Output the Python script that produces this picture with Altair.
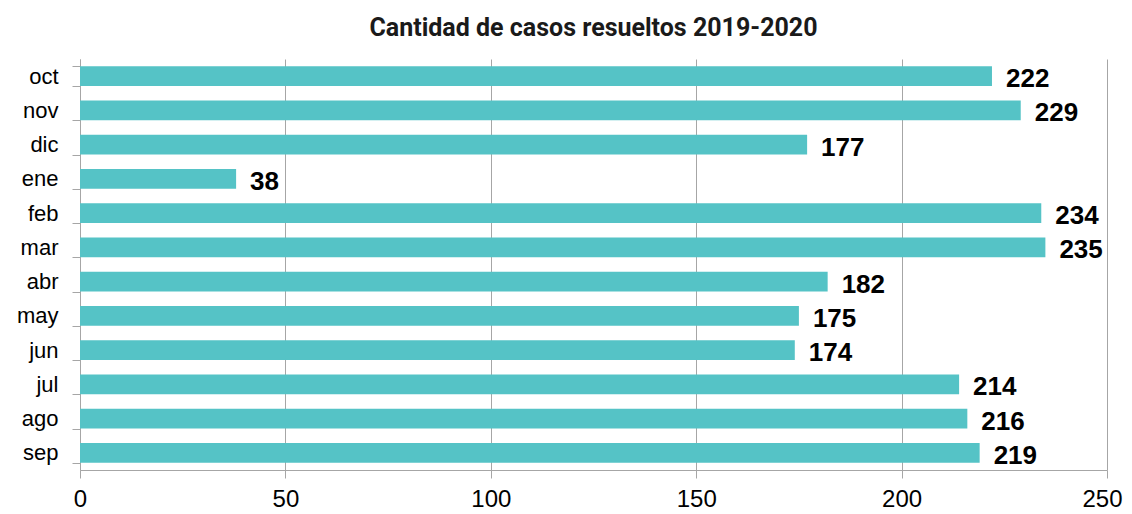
import altair as alt
import pandas as pd

months = ["oct", "nov", "dic", "ene", "feb", "mar", "abr", "may", "jun", "jul", "ago", "sep"]
values = [222, 229, 177, 38, 234, 235, 182, 175, 174, 214, 216, 219]
x_ticks = [0, 50, 100, 150, 200, 250]

df = pd.DataFrame({"mes": months, "casos": values})

y_enc = alt.Y("mes:N", sort=months, title=None,
              scale=alt.Scale(paddingInner=0.42, paddingOuter=0.21),
              axis=alt.Axis(labelFontSize=22, labelFont="Liberation Sans", labelColor="#000000",
                            labelPadding=14, tickSize=8, tickColor="#A6A6A6", domainColor="#A6A6A6",
                            tickBand="extent", grid=False))
x_enc = alt.X("casos:Q", title=None,
              scale=alt.Scale(domain=[0, 250], nice=False),
              axis=alt.Axis(values=x_ticks, labelFontSize=24,
                            labelFont="Liberation Sans", labelColor="#000000", labelPadding=9,
                            labelAlign=alt.ExprRef(expr="datum.value == 250 ? 'right' : 'center'"),
                            labelOffset=alt.ExprRef(expr="datum.value == 250 ? 15 : 0"),
                            tickSize=8, tickColor="#A6A6A6", domainColor="#A6A6A6",
                            gridColor="#A6A6A6", grid=True, labelFlush=False))

bars = alt.Chart(df).mark_bar(color="#55C3C6").encode(x=x_enc, y=y_enc)
labels = alt.Chart(df).mark_text(align="left", baseline="middle", dx=14, dy=3,
                                 font="Liberation Sans", fontSize=26, fontWeight="bold",
                                 color="#000000").encode(
    x="casos:Q", y=alt.Y("mes:N", sort=months), text="casos:Q")

chart = (bars + labels).properties(
    width=1027, height=411,
    title=alt.TitleParams("Cantidad de casos resueltos 2019-2020", font="Roboto", fontSize=25,
                          fontWeight="bold", color="#1a1a1a", offset=7, anchor="middle"),
    autosize=alt.AutoSizeParams(type="none"),
    padding={"left": 72, "top": 51, "right": 17, "bottom": 40},
).configure_view(stroke=None).configure_axis(domainWidth=1, tickWidth=1, gridWidth=1)

chart.save("out.html", embed_options={"renderer": "svg", "actions": False})
